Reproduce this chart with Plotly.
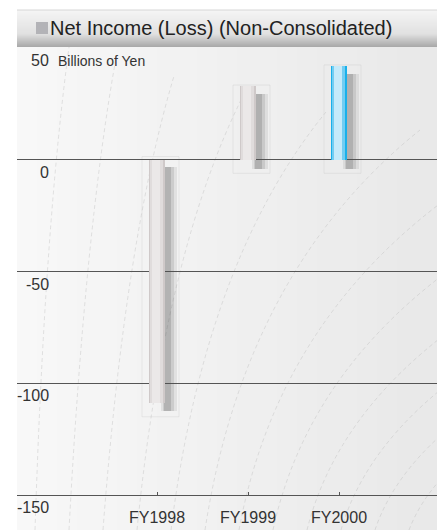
import plotly.graph_objects as go

# ---- data ----
categories = ["FY1998", "FY1999", "FY2000"]
net_income = [-109, 33, 42]          # billions of yen
bar_colors = ["#cfc9c9", "#cfc9c9", "#19b0ea"]
mid_colors = ["#e0dcdc", "#e0dcdc", "#72cdf2"]
hi_colors = ["#ebe8e8", "#ebe8e8", "#c4eafa"]
y_ticks = [50, 0, -50, -100, -150]
y_unit = "Billions of Yen"
title = "Net Income (Loss) (Non-Consolidated)"

W, H = 437, 530
ML, MB = 17, 35
PW, PH = W - ML, H - MB
SP = 91.0                      # px per category
X0 = 157.0                     # px of first category

def px_x(p):
    return (p - ML) / PW

def px_y(p):
    return (PH - p) / PH

FONT = "Liberation Sans, Arial, Helvetica, sans-serif"

fig = go.Figure()

def span(a, b):
    """bar spanning a..b px relative to category centre -> (width, offset)"""
    return (b - a) / SP, a / SP

# shadows
sh_base, sh_len = [], []
for v in net_income:
    if v > 0:
        sh_base.append(-4)
        sh_len.append(v + 0.5)
    else:
        sh_base.append(-3)
        sh_len.append(v - 0.5)
for (a, b), col in [((4, 20), "rgba(80,80,80,0.10)"),
                    ((6, 17), "rgba(80,80,80,0.14)"),
                    ((7, 14), "rgba(80,80,80,0.20)")]:
    w, o = span(a, b)
    fig.add_trace(go.Bar(x=categories, y=sh_len, base=sh_base, width=w, offset=o,
                         marker_color=col, marker_line_width=0, hoverinfo="skip",
                         showlegend=False))
# main bars (cylinder look by layering)
for (a, b), cols, hover in [((-8, 8), bar_colors, True),
                            ((-7, 6), mid_colors, False),
                            ((-5, 3), hi_colors, False)]:
    w, o = span(a, b)
    fig.add_trace(go.Bar(x=categories, y=net_income, width=w, offset=o,
                         marker_color=cols, marker_line_width=0,
                         hoverinfo=None if hover else "skip", showlegend=False))

shapes = []
# background gradient
n = 21
for i in range(n):
    t = i / (n - 1)
    c = int(248 - 15 * t)
    shapes.append(dict(type="rect", xref="paper", yref="paper", layer="below",
                       x0=px_x(ML + i * PW / n), x1=px_x(ML + (i + 1) * PW / n + 1),
                       y0=px_y(H), y1=px_y(10), line_width=0,
                       fillcolor=f"rgb({c},{c},{c})"))
# decorative dashed curves
for i in range(13):
    xb = 35 + i * 34
    xt = 70 + i * 40 + i * i * 6
    path = (f"M {px_x(xb)},{px_y(H)} Q {px_x(xb + 10 + i * 6)},{px_y(220 + i * 10)} "
            f"{px_x(xt)},{px_y(40 + i * 18)}")
    shapes.append(dict(type="path", xref="paper", yref="paper", layer="below",
                       path=path, line=dict(color="rgba(170,170,170,0.30)", width=1,
                                            dash="4px,3px")))
# faint frames around bars
for i, v in enumerate(net_income):
    top = max(v, 0) + (0 if v > 0 else 1)
    bot = min(v, 0) - 6
    shapes.append(dict(type="rect", xref="x", yref="y", layer="below",
                       x0=i - 15 / SP, x1=i + 22 / SP, y0=bot, y1=top + 0.5,
                       line=dict(color="rgba(200,200,200,0.35)", width=1)))
# title banner
for k in range(37):
    py = 10 + k
    t = k / 36
    if t < 0.65:
        c = int(245 - 20 * (t / 0.65))
    else:
        c = int(225 - 55 * ((t - 0.65) / 0.35))
    shapes.append(dict(type="rect", xref="paper", yref="paper", layer="above",
                       x0=px_x(ML), x1=px_x(W), y0=px_y(py + 1), y1=px_y(py),
                       line_width=0, fillcolor=f"rgb({c},{c},{c})"))
shapes.append(dict(type="line", xref="paper", yref="paper", layer="above",
                   x0=px_x(ML), x1=px_x(W), y0=px_y(10), y1=px_y(10),
                   line=dict(color="#d6d6d6", width=1)))
shapes.append(dict(type="rect", xref="paper", yref="paper", layer="above",
                   x0=px_x(36), x1=px_x(48), y0=px_y(34), y1=px_y(22),
                   line_width=0, fillcolor="#b3b3b7"))

annotations = [dict(text=title, xref="paper", yref="paper", x=px_x(48), y=px_y(28),
                    xanchor="left", yanchor="middle", showarrow=False,
                    font=dict(family=FONT, size=20, color="#222222"))]
for v in y_ticks:
    annotations.append(dict(text=str(v), xref="paper", yref="y", x=px_x(51), y=v,
                            xanchor="right", yanchor="top", yshift=-2, showarrow=False,
                            font=dict(family=FONT, size=16, color="#333333")))
annotations.append(dict(text=y_unit, xref="paper", yref="y", x=px_x(56), y=y_ticks[0],
                        xanchor="left", yanchor="top", yshift=-3, showarrow=False,
                        font=dict(family=FONT, size=14, color="#333333")))

y_top = (PH / (111.7 / 50)) - 150

fig.update_layout(
    width=W, height=H,
    margin=dict(l=ML, r=0, t=0, b=MB),
    paper_bgcolor="white", plot_bgcolor="white",
    barmode="overlay", bargap=0,
    shapes=shapes, annotations=annotations,
    xaxis=dict(type="category", range=[(ML - X0) / SP, (W - X0) / SP],
               showgrid=False, zeroline=False, showline=True, linecolor="#555555",
               linewidth=1.3, ticks="inside", ticklen=3, tickcolor="#555555",
               tickfont=dict(family=FONT, size=16, color="#333333"),
               ticklabelstandoff=8, fixedrange=True),
    yaxis=dict(range=[-150, y_top], tickvals=[t for t in y_ticks if t != 50],
               showticklabels=False, showgrid=True, gridcolor="#555555", gridwidth=1.3,
               zeroline=False, showline=False, fixedrange=True),
    showlegend=False,
)

fig.write_html("out.html")
